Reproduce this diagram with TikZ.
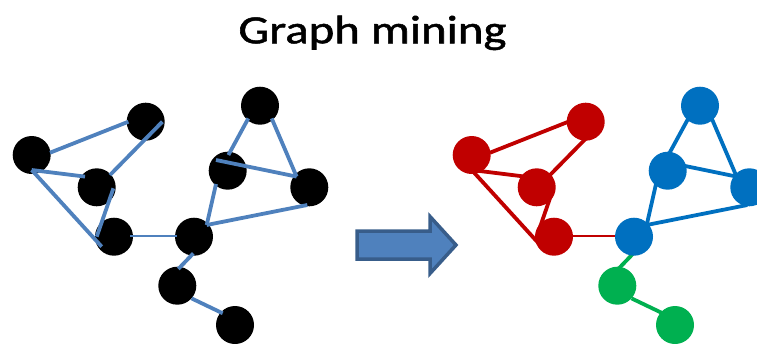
\documentclass[tikz,border=0pt]{standalone}
\usepackage{fontspec}
\setmainfont{Carlito}
\newfontfamily\titlefont{Carlito}[FakeBold=1.2]
\usetikzlibrary{calc}
\pgfdeclarelayer{bg}
\pgfsetlayers{bg,main}
\definecolor{edgeblue}{HTML}{4F81BD}
\definecolor{nred}{HTML}{C00000}
\definecolor{nblue}{HTML}{0070C0}
\definecolor{ngreen}{HTML}{00B050}
\definecolor{arrowfill}{HTML}{4F81BD}
\definecolor{arrowline}{HTML}{385D8A}
\begin{document}
\begin{tikzpicture}[x=1pt,y=-1pt,
  vtx/.style={circle,inner sep=0pt,minimum size=38pt},
  blk/.style={vtx,fill=black},
  rednode/.style={vtx,fill=nred},
  bluenode/.style={vtx,fill=nblue},
  greennode/.style={vtx,fill=ngreen},
  edge/.style={line width=3.8pt},
  thinedge/.style={line width=2.4pt},
  bigarrow/.style={fill=arrowfill,draw=arrowline,line width=3.5pt,line join=miter}]
\useasboundingbox (0,0) rectangle (757,343);
\node[anchor=base,inner sep=0pt,font=\titlefont\fontsize{40}{48}\selectfont] (title) at (372.5,43.3) {\scalebox{1.22}[1]{Graph mining}};
% left graph nodes
\foreach \n/\x/\y in {A/31.7/155, B/145.7/121.7, C/96.7/187.3, D/114/236.7, E/194/236.7, F/177.3/285.7, G/235/325, H/260/105.7, I/227.7/170.7, J/309.3/187.3}{
  \node[blk] (L\n) at (\x,\y) {};
}
% right graph nodes
\foreach \n/\x/\y/\s in {A/31.7/155/rednode, B/145.7/121.7/rednode, C/96.7/187.3/rednode, D/114/236.7/rednode, E/194/236.7/bluenode, F/177.3/285.7/greennode, G/235/325/greennode, H/260/105.7/bluenode, I/227.7/170.7/bluenode, J/309.3/187.3/bluenode}{
  \node[\s] (R\n) at (\x+440,\y) {};
}
% left edges (on top of nodes)
\begin{scope}[draw=edgeblue]
\draw[edge] ($(LA)+(18.3,-2.3)$) -- ($(LB)+(-17.3,0)$);
\draw[edge] ($(LA)+(0,15)$) -- ($(LC)+(-11.7,-10.7)$);
\draw[edge] ($(LA)+(0,15)$) -- ($(LD)+(-12.3,10)$);
\draw[edge] ($(LB)+(16.7,0)$) -- ($(LC)+(13.3,-12.3)$);
\draw[edge] ($(LC)+(16.7,1)$) -- ($(LD)+(-17.3,0)$);
\draw[thinedge] ($(LD)+(16,-1)$) -- ($(LE)+(-17.3,-1)$);
\draw[edge] ($(LE)+(12.7,-11.7)$) -- ($(LI)+(-11.7,13.3)$);
\draw[edge] ($(LE)+(12.7,-11.7)$) -- ($(LJ)+(-2,17.7)$);
\draw[edge] ($(LI)+(0.7,-15.7)$) -- ($(LH)+(-11.7,12.7)$);
\draw[edge] ($(LH)+(11.7,12.7)$) -- ($(LJ)+(-12.7,-10.7)$);
\draw[edge] ($(LI)+(-11.7,-10.7)$) -- ($(LJ)+(-12.7,-10.7)$);
\draw[edge] ($(LE)+(-0.7,16.7)$) -- ($(LF)+(1,-16.7)$);
\draw[edge] ($(LF)+(14.3,12.7)$) -- ($(LG)+(-12.3,-11.7)$);
\end{scope}
% right edges (behind nodes)
\begin{pgfonlayer}{bg}
\begin{scope}[draw=nred]
\draw[edge] ($(RA)+(18.3,-2.3)$) -- ($(RB)+(-17.3,0)$);
\draw[edge] ($(RA)+(0,15)$) -- ($(RC)+(-11.7,-10.7)$);
\draw[edge] ($(RA)+(0,15)$) -- ($(RD)+(-12.3,10)$);
\draw[edge] ($(RB)+(16.7,0)$) -- ($(RC)+(13.3,-12.3)$);
\draw[edge] ($(RC)+(16.7,1)$) -- ($(RD)+(-17.3,0)$);
\draw[thinedge] ($(RD)+(16,-1)$) -- ($(RE)+(-17.3,-1)$);
\end{scope}
\begin{scope}[draw=nblue]
\draw[edge] ($(RE)+(12.7,-11.7)$) -- ($(RI)+(-11.7,13.3)$);
\draw[edge] ($(RE)+(12.7,-11.7)$) -- ($(RJ)+(-2,17.7)$);
\draw[edge] ($(RI)+(0.7,-15.7)$) -- ($(RH)+(-11.7,12.7)$);
\draw[edge] ($(RH)+(11.7,12.7)$) -- ($(RJ)+(-12.7,-10.7)$);
\draw[edge] ($(RI)+(-11.7,-10.7)$) -- ($(RJ)+(-12.7,-10.7)$);
\end{scope}
\begin{scope}[draw=ngreen]
\draw[edge] ($(RE)+(-0.7,16.7)$) -- ($(RF)+(1,-16.7)$);
\draw[edge] ($(RF)+(14.3,12.7)$) -- ($(RG)+(-12.3,-11.7)$);
\end{scope}
\end{pgfonlayer}
% big arrow
\draw[bigarrow] (357,231) -- (430,231) -- (430,216.5) -- (456,245) -- (430,273.5) -- (430,259) -- (357,259) -- cycle;
\end{tikzpicture}
\end{document}
